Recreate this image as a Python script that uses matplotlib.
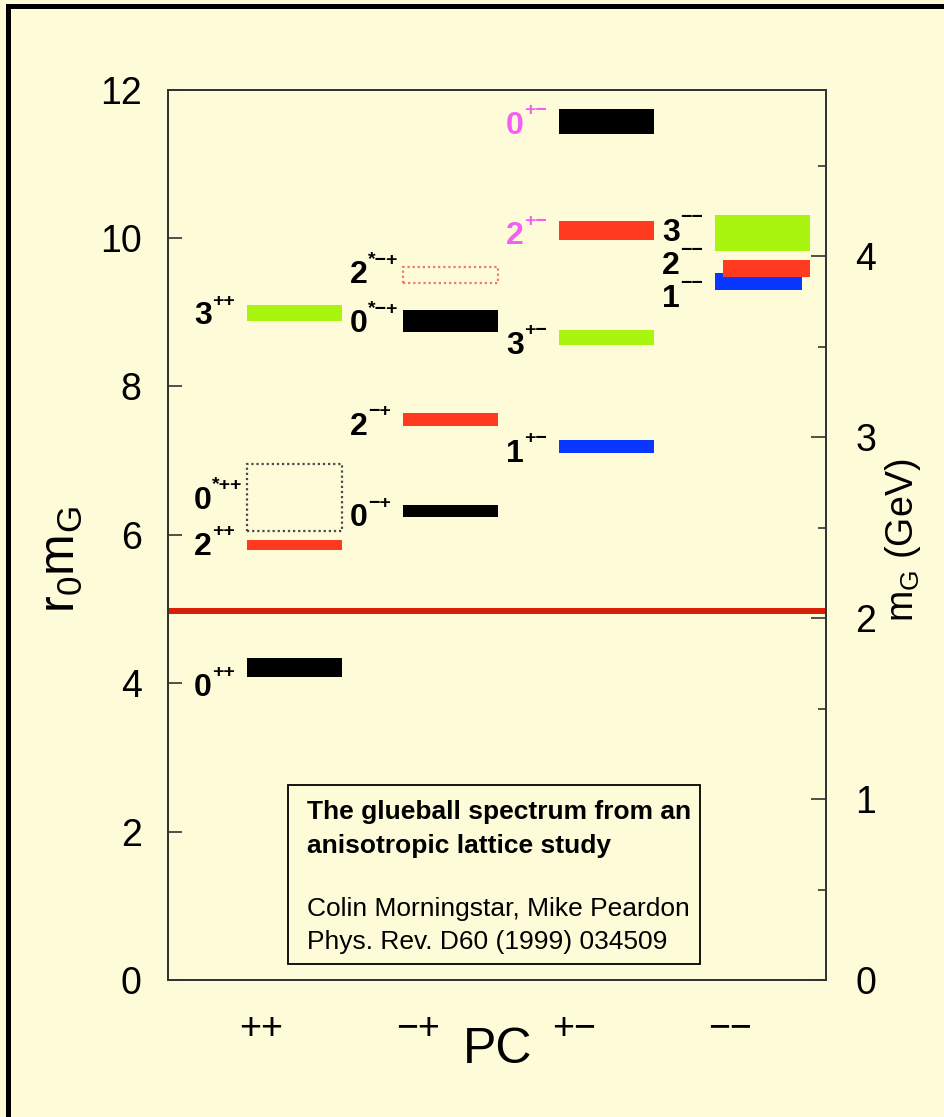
import matplotlib
matplotlib.use("Agg")
import matplotlib.pyplot as plt
from matplotlib.patches import Rectangle
from matplotlib.ticker import MultipleLocator

plt.rcParams['font.family'] = ['Liberation Sans', 'DejaVu Sans']
plt.rcParams['mathtext.fontset'] = 'custom'
plt.rcParams['mathtext.rm'] = 'Liberation Sans'
plt.rcParams['mathtext.it'] = 'Liberation Sans'
plt.rcParams['mathtext.bf'] = 'Liberation Sans:bold'
plt.rcParams['mathtext.default'] = 'regular'

# ---------------- data ----------------
pc_categories = ['++', '\u2212+', '+\u2212', '\u2212\u2212']
state_J = ['0', '2', '0', '3', '0', '2', '0', '2', '1', '3', '2', '0', '1', '2', '3']
state_PC = [0, 0, 0, 0, 1, 1, 1, 1, 2, 2, 2, 2, 3, 3, 3]
state_sup = ['++', '++', '*++', '++',
             '\u2212+', '\u2212+', '*\u2212+', '*\u2212+',
             '+\u2212', '+\u2212', '+\u2212', '+\u2212',
             '\u2212\u2212', '\u2212\u2212', '\u2212\u2212']
r0_mass = [4.21, 5.86, 6.50, 8.99, 6.32, 7.55, 8.88, 9.50, 7.19, 8.66, 10.10, 11.57, 9.41, 9.59, 10.07]
r0_err = [0.125, 0.067, 0.45, 0.105, 0.079, 0.084, 0.146, 0.11, 0.09, 0.097, 0.128, 0.173, 0.117, 0.117, 0.24]
tentative = [False, False, True, False, False, False, False, True, False, False, False, False, False, False, False]
exotic = [False, False, False, False, False, False, False, False, False, False, True, True, False, False, False]
threshold = 4.97          # r0 mG of the red line
r0_inv_GeV = 0.41         # 1/r0 in GeV

# ---------------- styles / layout ----------------
J_colors = {'0': '#000000', '1': '#0A37FF', '2': '#FF3A1F', '3': '#AAF510'}
dotted_colors = {'0': '#4A4A4A', '2': '#F07868'}
exotic_color = '#F45EF2'
bg = '#FEFCD8'
# per-state horizontal trims (column units) and label vertical shifts (px, +down)
left_trim = [0]*12 + [0.0, 0.051, 0.0]
right_trim = [0]*12 + [0.051, 0.0, 0.0]
label_dy = [17, -1.5, 0, 0, 4, 3.5, 0, -3, 4, 5, 2.5, 1, 14, -6, -3]

W, H = 945, 1117
fig = plt.figure(figsize=(W/100, H/100), dpi=100, facecolor=bg)
ax_l, ax_r, ax_b, ax_t = 168, 826, 980, 89.5
ax = fig.add_axes([ax_l/W, 1-ax_b/H, (ax_r-ax_l)/W, (ax_b-ax_t)/H])
ax.set_facecolor(bg)
col_px = 156.0
ax.set_xlim(0, (ax_r-ax_l)/col_px)
ax.set_ylim(0, 12)

bar_off, bar_w = 0.506, 0.609
for i in range(len(state_J)):
    c = state_PC[i]
    x0 = c + bar_off + left_trim[i]
    w = bar_w - left_trim[i] - right_trim[i]
    y0 = r0_mass[i] - r0_err[i]
    h = 2*r0_err[i]
    J = state_J[i]
    if tentative[i]:
        ax.bar(x0, h, bottom=y0, width=w, align='edge', facecolor='none',
               edgecolor=dotted_colors[J], linestyle=(0, (1, 1.3)), linewidth=1.6, zorder=3)
    else:
        ax.bar(x0, h, bottom=y0, width=w, align='edge', color=J_colors[J],
               edgecolor='none', zorder=3)
    lc = exotic_color if exotic[i] else '#000000'
    lx = c + bar_off - 0.34
    base = -8.2 - label_dy[i]*0.72
    ax.annotate(J, xy=(lx, r0_mass[i]), xytext=(0, base), textcoords='offset points',
                ha='left', va='baseline', fontsize=23, fontweight='bold', color=lc, zorder=4)
    ax.annotate(state_sup[i], xy=(lx, r0_mass[i]), xytext=(13, base+13.5), textcoords='offset points',
                ha='left', va='baseline', fontsize=14, fontweight='bold', color=lc, zorder=4)

ax.axhline(threshold, color='#D81E05', linewidth=4.3, zorder=2)

# axes styling
for s in ax.spines.values():
    s.set_linewidth(1.3)
    s.set_color('#333333')
ax.yaxis.set_major_locator(MultipleLocator(2))
ax.tick_params(axis='y', which='major', direction='in', length=10, width=1.2,
               labelsize=27, pad=19, colors='#333333', labelcolor='black')
ax.set_xticks([i + 0.6 for i in range(4)])
ax.set_xticklabels(pc_categories)
ax.tick_params(axis='x', length=0, labelsize=27, pad=22)

ax2 = ax.twinx()
ax2.set_ylim(0, 12*r0_inv_GeV)
ax2.yaxis.set_major_locator(MultipleLocator(1))
ax2.yaxis.set_minor_locator(MultipleLocator(0.5))
ax2.tick_params(axis='y', which='major', direction='in', length=11, width=1.2,
                labelsize=27, pad=21, colors='#333333', labelcolor='black')
ax2.tick_params(axis='y', which='minor', direction='in', length=6, width=1.2, colors='#333333')
for s in ax2.spines.values():
    s.set_linewidth(1.3)
    s.set_color('#333333')

# axis labels
fig.text(62/W, 1-560/H, r'r$_0$m$_G$', rotation=90, ha='center', va='center', fontsize=36)
fig.text(903/W, 1-540/H, r'm$_G$ (GeV)', rotation=90, ha='center', va='center', fontsize=27)
fig.text(498/W, 1-1050/H, 'PC', ha='center', va='center', fontsize=36)

# inset reference box
bx0, bx1, by0, by1 = 288, 700, 785, 964
def fx(p): return (p-ax_l)/(ax_r-ax_l)
def fy(p): return (ax_b-p)/(ax_b-ax_t)
ax.add_patch(Rectangle((fx(bx0), fy(by1)), fx(bx1)-fx(bx0), fy(by0)-fy(by1),
                       transform=ax.transAxes, facecolor=bg, edgecolor='black',
                       linewidth=1.3, zorder=5))
tx = fx(307)
ax.text(tx, fy(812), 'The glueball spectrum from an', transform=ax.transAxes,
        fontsize=19, fontweight='bold', ha='left', va='center', zorder=6)
ax.text(tx, fy(846), 'anisotropic lattice study', transform=ax.transAxes,
        fontsize=19, fontweight='bold', ha='left', va='center', zorder=6)
ax.text(tx, fy(909), 'Colin Morningstar, Mike Peardon', transform=ax.transAxes,
        fontsize=19, ha='left', va='center', zorder=6)
ax.text(tx, fy(942), 'Phys. Rev. D60 (1999) 034509', transform=ax.transAxes,
        fontsize=19, ha='left', va='center', zorder=6)

# outer black border (left and top)
fig.patches.append(Rectangle((8/W, -0.1), 1.2, 1.1-6/H, transform=fig.transFigure,
                             facecolor='none', edgecolor='black', linewidth=3.6))

fig.savefig('out.png', dpi=100, facecolor=bg)
